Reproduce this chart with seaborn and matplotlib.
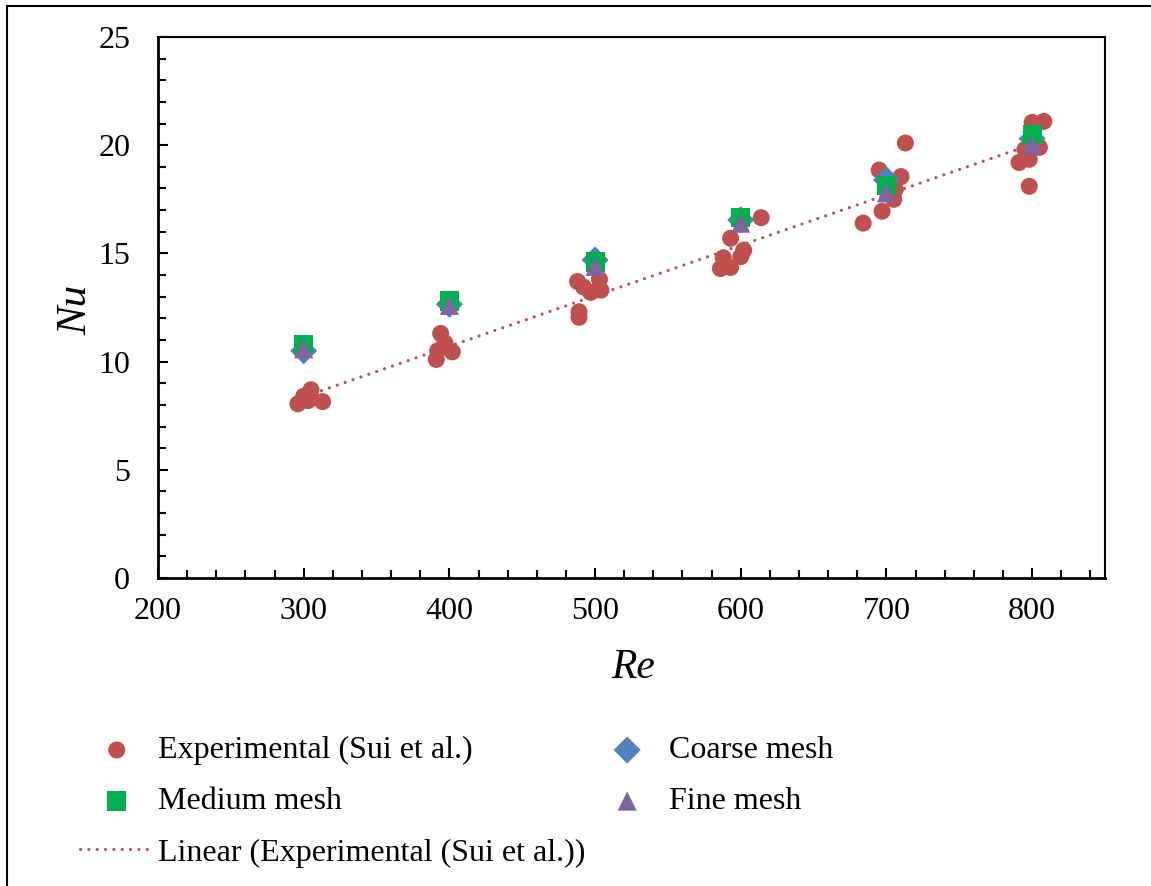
import numpy as np
import pandas as pd
import seaborn as sns
import matplotlib.pyplot as plt
from matplotlib.patches import Rectangle
from matplotlib.ticker import MultipleLocator

# experimental data (Sui et al.)
re_exp = [296, 300, 305, 303, 313,
          394, 392, 391, 397, 402,
          488, 497, 503, 504, 489, 489, 492,
          614, 593, 602, 600, 588, 586, 593,
          713, 695, 710, 706, 697, 684, 705,
          800, 808, 795, 791, 798, 798, 805]
nu_exp = [8.05, 8.4, 8.7, 8.2, 8.15,
          11.3, 10.5, 10.1, 10.85, 10.45,
          13.7, 13.2, 13.8, 13.3, 12.3, 12.05, 13.45,
          16.65, 15.7, 15.15, 14.85, 14.8, 14.3, 14.35,
          20.1, 18.85, 18.55, 17.95, 16.95, 16.4, 17.5,
          21.05, 21.1, 19.8, 19.2, 19.35, 18.1, 19.9]

# simulations
re_sim = [300, 400, 500, 600, 700, 800]
nu_coarse = [10.5, 12.65, 14.7, 16.55, 18.4, 20.3]
nu_medium = [10.8, 12.8, 14.6, 16.65, 18.15, 20.5]
nu_fine = [10.6, 12.6, 14.4, 16.4, 17.8, 20.0]

RED = "#C0504D"
GREEN = "#00B050"
BLUE = "#4F81BD"
PURPLE = "#8064A2"

sns.set_style("white")
plt.rcParams["font.family"] = ["Liberation Serif", "DejaVu Serif"]
plt.rcParams["text.color"] = "black"
plt.rcParams["axes.labelcolor"] = "black"

exp = pd.DataFrame({"Re": re_exp, "Nu": nu_exp})
sim = pd.DataFrame({"Re": re_sim, "coarse": nu_coarse,
                    "medium": nu_medium, "fine": nu_fine})

fig = plt.figure(figsize=(11.51, 8.86), dpi=100)
ax = fig.add_axes([158 / 1151, 1 - 578 / 886, 947 / 1151, 541 / 886])

sns.scatterplot(data=exp, x="Re", y="Nu", ax=ax, color=RED, s=150,
                marker="o", edgecolor="none", label="Experimental (Sui et al.)", zorder=2)
sns.regplot(data=exp, x="Re", y="Nu", ax=ax, scatter=False, ci=None,
            line_kws=dict(color=RED, lw=2.3, ls=(0, (0.01, 2.6)),
                          dash_capstyle="round", zorder=3),
            label="Linear (Experimental (Sui et al.))")
sns.scatterplot(data=sim, x="Re", y="coarse", ax=ax, color=BLUE, s=190,
                marker="D", edgecolor="none", label="Coarse mesh", zorder=4)
sns.scatterplot(data=sim, x="Re", y="medium", ax=ax, color=GREEN, s=190,
                marker="s", edgecolor="none", label="Medium mesh", zorder=5)
sns.scatterplot(data=sim, x="Re", y="fine", ax=ax, color=PURPLE, s=190,
                marker="^", edgecolor="none", label="Fine mesh", zorder=6)

ax.set_xlim(200, 850)
ax.set_ylim(0, 25)
ax.set_xticks([200, 300, 400, 500, 600, 700, 800])
ax.xaxis.set_minor_locator(MultipleLocator(20))
ax.yaxis.set_major_locator(MultipleLocator(5))
ax.yaxis.set_minor_locator(MultipleLocator(1))
ax.tick_params(which="both", direction="in", bottom=True, left=True,
               top=False, right=False, labelsize=23, colors="black")
ax.tick_params(axis="x", which="major", length=7.5, width=1.5, pad=14)
ax.tick_params(axis="x", which="minor", length=5.5, width=1.5)
ax.tick_params(axis="y", which="major", length=7.5, width=1.5, pad=20)
ax.tick_params(axis="y", which="minor", length=5.5, width=1.5)

for side, sp in ax.spines.items():
    sp.set_color("black")
    sp.set_linewidth(2.0 if side in ("left", "bottom") else 1.5)

ax.set_xlabel("Re", fontsize=30, style="italic")
ax.set_ylabel("Nu", fontsize=31, style="italic")
ax.xaxis.set_label_coords(0.5016, -0.166)
ax.xaxis.label.set_va("center")
ax.yaxis.set_label_coords(-0.087, 0.495)
ax.yaxis.label.set_va("center")

h, l = ax.get_legend_handles_labels()
lookup = dict(zip(l, h))
order = ["Experimental (Sui et al.)", "Medium mesh",
         "Linear (Experimental (Sui et al.))", "Coarse mesh", "Fine mesh"]
if ax.legend_:
    ax.legend_.remove()
fig.legend([lookup[k] for k in order], order, ncol=2, frameon=False,
           fontsize=23, loc="upper left", bbox_to_anchor=(80 / 1151, 1 - 736 / 886),
           borderpad=0, borderaxespad=0, handlelength=2.3, handletextpad=0.15,
           columnspacing=0.15, labelspacing=0.68)

# outer chart border
fig.add_artist(Rectangle((7 / 1151, -0.1), 1.2, 1 - 6 / 886 + 0.1,
                         transform=fig.transFigure, fill=False,
                         edgecolor="black", lw=1.5, clip_on=False))

fig.savefig("out.png", dpi=100)
